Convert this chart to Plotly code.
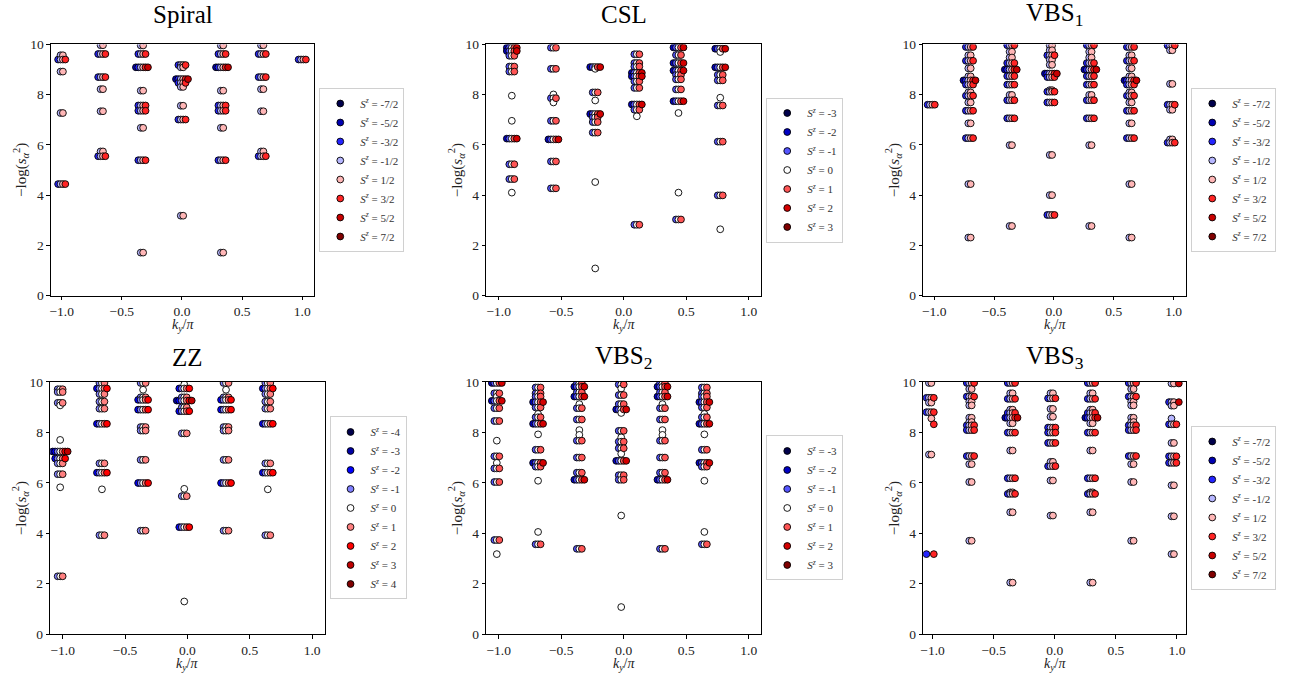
import plotly.graph_objects as go

W, H = 1304, 688
DX = 0.02  # horizontal shift of a point per unit of S^z

# ---------------- data: column momenta, levels (-log s^2) and spins ----------------
# a number in *_SPINS is a full multiplet S (S^z = -S..S); a tuple lists S^z values explicitly

SPIRAL_K = [-1.0, -0.667, -0.333, 0.0, 0.333, 0.667, 1.0]
SPIRAL_LEVELS = [
    [9.57, 9.40, 8.92, 7.27, 4.44],
    [9.97, 9.62, 8.70, 8.22, 7.34, 5.74, 5.55],
    [9.96, 9.62, 9.09, 8.16, 7.57, 7.36, 6.68, 5.39, 1.71],
    [9.18, 9.09, 8.62, 8.47, 8.31, 7.56, 7.01, 3.18],
    [9.96, 9.62, 9.09, 8.16, 7.57, 7.36, 6.68, 5.39, 1.71],
    [9.97, 9.62, 8.70, 8.22, 7.34, 5.74, 5.55],
    [9.40],
]
SPIRAL_SPINS = [
    [0.5, 1.5, 0.5, 0.5, 1.5],
    [0.5, 1.5, 1.5, 0.5, 0.5, 0.5, 1.5],
    [0.5, 1.5, 2.5, 0.5, 1.5, 1.5, 0.5, 1.5, 0.5],
    [1.5, 0.5, 2.5, 1.5, 0.5, 0.5, 1.5, 0.5],
    [0.5, 1.5, 2.5, 0.5, 1.5, 1.5, 0.5, 1.5, 0.5],
    [0.5, 1.5, 1.5, 0.5, 0.5, 0.5, 1.5],
    [1.5],
]
SPIRAL_SZ = [-3.5, -2.5, -1.5, -0.5, 0.5, 1.5, 2.5, 3.5]

CSL_K = [-0.895, -0.562, -0.228, 0.105, 0.438, 0.772]
CSL_LEVELS = [
    [9.87, 9.74, 9.55, 9.12, 8.92, 7.96, 6.96, 6.25, 5.23, 4.64, 4.10],
    [9.87, 9.03, 8.01, 7.86, 7.69, 6.96, 6.22, 5.34, 4.27],
    [9.10, 9.03, 8.09, 7.77, 7.23, 7.10, 6.91, 6.49, 4.52, 1.08],
    [9.61, 9.26, 9.12, 8.87, 8.73, 8.53, 8.27, 7.61, 7.40, 7.14, 2.82],
    [9.88, 9.58, 9.26, 8.96, 8.79, 8.61, 8.21, 7.74, 7.27, 4.10, 3.03],
    [9.83, 9.70, 9.09, 8.79, 8.57, 7.88, 7.57, 6.13, 3.99, 2.64],
]
CSL_SPINS = [
    [2, 2, 1, 1, 1, 0, 0, 2, 1, 1, 0],
    [1, 1, 0, 1, 0, 1, 2, 1, 1],
    [2, 0, 1, 0, 2, 1, 1, 1, 0, 0],
    [1, 1, 1, 2, 2, 1, 1, 2, 1, 0, 1],
    [2, 1, 2, 2, 1, 1, 1, 2, 0, 0, 1],
    [2, 0, 2, 1, 1, 0, 1, 1, 1, 0],
]
CSL_SZ = [-3, -2, -1, 0, 1, 2, 3]

VBS1_K = [-1.025, -0.705, -0.36, -0.025, 0.305, 0.64, 0.98]
VBS1_LEVELS = [
    [7.60],
    [9.90, 9.57, 9.35, 9.05, 8.73, 8.57, 8.40, 8.09, 7.96, 7.69, 7.36, 6.86, 6.27, 4.44, 2.31],
    [9.97, 9.71, 9.48, 9.26, 9.00, 8.74, 8.40, 7.99, 7.78, 7.06, 5.99, 2.77],
    [9.96, 9.77, 9.57, 9.39, 9.19, 8.84, 8.70, 8.18, 8.12, 7.69, 5.60, 4.00, 3.21],
    [9.97, 9.71, 9.48, 9.26, 9.00, 8.74, 8.40, 7.99, 7.78, 7.06, 5.99, 2.77],
    [9.90, 9.57, 9.35, 9.05, 8.73, 8.57, 8.40, 8.09, 7.96, 7.69, 7.36, 6.86, 6.27, 4.44, 2.31],
    [9.96, 9.77, 8.43, 7.60, 7.40, 6.22, 6.09],
]
VBS1_SPINS = [
    [1.5],
    [1.5, 0.5, 1.5, 0.5, 0.5, 2.5, 1.5, 0.5, 1.5, 0.5, 1.5, 0.5, 1.5, 0.5, 0.5],
    [1.5, 0.5, 0.5, 1.5, 2.5, 1.5, 1.5, 0.5, 1.5, 1.5, 0.5, 0.5],
    [0.5, 0.5, 1.5, 0.5, 0.5, 2.5, 1.5, 0.5, 1.5, 1.5, 0.5, 0.5, 1.5],
    [1.5, 0.5, 0.5, 1.5, 2.5, 1.5, 1.5, 0.5, 1.5, 1.5, 0.5, 0.5],
    [1.5, 0.5, 1.5, 0.5, 0.5, 2.5, 1.5, 0.5, 1.5, 0.5, 1.5, 0.5, 1.5, 0.5, 0.5],
    [1.5, 0.5, 0.5, 1.5, 0.5, 0.5, 1.5],
]
VBS1_SZ = [-3.5, -2.5, -1.5, -0.5, 0.5, 1.5, 2.5, 3.5]

ZZ_K = [-1.02, -0.685, -0.355, -0.025, 0.31, 0.645]
ZZ_LEVELS = [
    [9.71, 9.60, 9.17, 9.07, 7.70, 7.24, 6.96, 6.77, 6.34, 5.82, 2.29],
    [9.96, 9.74, 9.52, 9.22, 8.94, 8.34, 6.77, 6.40, 5.74, 3.92],
    [9.96, 9.69, 9.39, 9.29, 8.90, 8.21, 8.07, 6.91, 5.99, 4.10],
    [9.90, 9.74, 9.39, 9.26, 8.99, 8.84, 7.96, 5.76, 5.47, 4.24, 1.29],
    [9.96, 9.69, 9.39, 9.29, 8.90, 8.21, 8.07, 6.91, 5.99, 4.10],
    [9.96, 9.74, 9.52, 9.22, 8.94, 8.34, 6.77, 6.40, 5.74, 3.92],
]
ZZ_SPINS = [
    [1, 1, 1, 0, 0, 3, 2, 1, 1, 0, 1],
    [1, 2, 1, 1, 1, 2, 1, 2, 0, 1],
    [1, 0, 1, 2, 2, 1, 1, 1, 2, 1],
    [0, 2, 1, 3, 1, 2, 1, 0, 1, 2, 0],
    [1, 0, 1, 2, 2, 1, 1, 1, 2, 1],
    [1, 2, 1, 1, 1, 2, 1, 2, 0, 1],
]
ZZ_SZ = [-4, -3, -2, -1, 0, 1, 2, 3, 4]

VBS2_K = [-1.015, -0.685, -0.355, -0.02, 0.31, 0.645]
VBS2_LEVELS = [
    [9.96, 9.55, 9.42, 9.25, 8.96, 8.45, 7.67, 7.05, 6.79, 6.57, 6.03, 3.73, 3.17],
    [9.78, 9.55, 9.42, 9.20, 8.99, 8.73, 8.60, 8.34, 7.92, 7.31, 6.79, 6.64, 6.08, 4.05, 3.56],
    [9.94, 9.81, 9.59, 9.42, 9.12, 8.96, 8.51, 8.09, 7.90, 7.67, 7.00, 6.40, 6.12, 3.38],
    [9.90, 9.74, 9.48, 9.12, 8.91, 8.77, 8.06, 7.80, 7.63, 7.37, 7.15, 6.87, 6.30, 6.12, 4.70, 1.07],
    [9.94, 9.81, 9.59, 9.42, 9.12, 8.96, 8.51, 8.09, 7.90, 7.67, 7.00, 6.40, 6.12, 3.38],
    [9.78, 9.55, 9.42, 9.20, 8.99, 8.73, 8.60, 8.34, 7.92, 7.31, 6.79, 6.64, 6.08, 4.05, 3.56],
]
VBS2_SPINS = [
    [2, 1, 0, 2, 1, 1, 0, 1, 0, 1, 1, 1, 0],
    [1, 1, 1, 2, 1, 0, 1, 2, 0, 1, 2, 1, 0, 0, 1],
    [1, 2, 1, 2, 0, 1, 1, 0, 0, 1, 1, 1, 2, 1],
    [1, 0, 1, 1, 2, 0, 1, 0, 1, 1, 0, 2, 1, 1, 0, 0],
    [1, 2, 1, 2, 0, 1, 1, 0, 0, 1, 1, 1, 2, 1],
    [1, 1, 1, 2, 1, 0, 1, 2, 0, 1, 2, 1, 0, 0, 1],
]
VBS2_SZ = [-3, -2, -1, 0, 1, 2, 3]

VBS3_K = [-1.02, -0.69, -0.355, -0.025, 0.30, 0.635, 0.965]
VBS3_LEVELS = [
    [9.96, 9.37, 9.18, 8.80, 8.55, 8.32, 7.12, 3.17],
    [9.96, 9.72, 9.42, 9.22, 9.07, 8.58, 8.41, 8.28, 8.09, 7.06, 6.74, 6.03, 3.70],
    [9.96, 9.55, 9.33, 8.90, 8.77, 8.58, 8.36, 7.99, 7.28, 6.18, 5.62, 5.56, 4.83, 2.04],
    [9.55, 9.35, 8.93, 8.62, 8.19, 7.99, 7.58, 6.83, 6.66, 6.09, 4.70],
    [9.96, 9.55, 9.33, 8.90, 8.77, 8.58, 8.36, 7.99, 7.28, 6.18, 5.62, 5.56, 4.83, 2.04],
    [9.96, 9.72, 9.42, 9.22, 9.07, 8.58, 8.41, 8.28, 8.09, 7.06, 6.74, 6.03, 3.70],
    [9.94, 9.20, 9.06, 8.55, 8.32, 7.58, 7.05, 6.79, 5.90, 4.67, 3.17],
]
VBS3_SPINS = [
    [0.5, 1.5, 0.5, 1.5, (0.5,), (1.5,), 0.5, (-1.5, 1.5)],
    [1.5, 0.5, 1.5, 0.5, 0.5, 0.5, 0.5, 1.5, 1.5, 1.5, 0.5, 0.5, 0.5],
    [1.5, 0.5, 1.5, 0.5, 1.5, 2.5, 0.5, 1.5, 0.5, 1.5, 0.5, 1.5, 0.5, 0.5],
    [0.5, 1.5, 0.5, 0.5, 1.5, 1.5, 1.5, 0.5, 1.5, 0.5, 0.5],
    [1.5, 0.5, 1.5, 0.5, 1.5, 2.5, 0.5, 1.5, 0.5, 1.5, 0.5, 1.5, 0.5, 0.5],
    [1.5, 0.5, 1.5, 0.5, 0.5, 0.5, 0.5, 1.5, 1.5, 1.5, 0.5, 0.5, 0.5],
    [(-0.5, 0.5, 2.5), (-1.5, -0.5, 0.5, 2.5), 0.5, (-0.5,), 1.5, 0.5, 1.5, 1.5, 0.5, 0.5, 0.5],
]
VBS3_SZ = [-3.5, -2.5, -1.5, -0.5, 0.5, 1.5, 2.5, 3.5]

# ---------------- panel layout (pixel boxes) ----------------
PANELS = [
    dict(title="Spiral", k=SPIRAL_K, lev=SPIRAL_LEVELS, spin=SPIRAL_SPINS, sz=SPIRAL_SZ,
         box=(48, 312, 38.3, 295), xr=(-1.09, 1.10)),
    dict(title="CSL", k=CSL_K, lev=CSL_LEVELS, spin=CSL_SPINS, sz=CSL_SZ,
         box=(484.3, 760, 38.3, 295), xr=(-1.10, 1.10)),
    dict(title="VBS<sub>1</sub>", k=VBS1_K, lev=VBS1_LEVELS, spin=VBS1_SPINS, sz=VBS1_SZ,
         box=(922.3, 1186, 38.3, 295), xr=(-1.092, 1.106)),
    dict(title="ZZ", k=ZZ_K, lev=ZZ_LEVELS, spin=ZZ_SPINS, sz=ZZ_SZ,
         box=(47.3, 322.3, 383.3, 641), xr=(-1.10, 1.10)),
    dict(title="VBS<sub>2</sub>", k=VBS2_K, lev=VBS2_LEVELS, spin=VBS2_SPINS, sz=VBS2_SZ,
         box=(484.3, 760, 383.3, 641), xr=(-1.10, 1.10)),
    dict(title="VBS<sub>3</sub>", k=VBS3_K, lev=VBS3_LEVELS, spin=VBS3_SPINS, sz=VBS3_SZ,
         box=(922.3, 1186, 383.3, 641), xr=(-1.077, 1.076)),
]

# matplotlib "seismic" colormap anchors
SEISMIC = [(0.0, (0.0, 0.0, 0.3)), (0.25, (0.0, 0.0, 1.0)), (0.5, (1.0, 1.0, 1.0)),
           (0.75, (1.0, 0.0, 0.0)), (1.0, (0.5, 0.0, 0.0))]


def seismic(t):
    for (t0, c0), (t1, c1) in zip(SEISMIC[:-1], SEISMIC[1:]):
        if t <= t1 + 1e-12:
            f = (t - t0) / (t1 - t0)
            rgb = [round(255 * (a + (b - a) * f)) for a, b in zip(c0, c1)]
            return "rgb(%d,%d,%d)" % tuple(rgb)
    return "rgb(128,0,0)"


def sz_label(sz):
    if float(sz).is_integer():
        v = "%d" % int(sz)
    else:
        v = "%d/2" % int(round(2 * sz))
    return "<i>S</i><sup><i>z</i></sup> = " + v


def multiplet(s):
    if isinstance(s, tuple):
        return list(s)
    n = int(round(2 * s)) + 1
    return [-s + i for i in range(n)]


SERIF = "Liberation Serif, Times New Roman, serif"

fig = go.Figure()
layout = dict(width=W, height=H, margin=dict(l=0, r=0, t=0, b=0),
              paper_bgcolor="white", plot_bgcolor="white", showlegend=True,
              font=dict(family=SERIF, color="black"))
annotations = []

for i, p in enumerate(PANELS, start=1):
    x0, x1, ytop, ybot = p["box"]
    xa = "x" if i == 1 else "x%d" % i
    ya = "y" if i == 1 else "y%d" % i
    leg = "legend" if i == 1 else "legend%d" % i

    # collect points by S^z
    pts = {sz: ([], []) for sz in p["sz"]}
    for k, levs, spins in zip(p["k"], p["lev"], p["spin"]):
        for y, s in zip(levs, spins):
            for sz in multiplet(s):
                pts[sz][0].append(k + DX * sz)
                pts[sz][1].append(y)

    lo, hi = p["sz"][0], p["sz"][-1]
    for sz in p["sz"]:
        xs, ys = pts[sz]
        if not xs:
            xs, ys = [None], [None]
        t = (sz - lo) / (hi - lo)
        fig.add_trace(go.Scatter(
            x=xs, y=ys, mode="markers", name=sz_label(sz), legend=leg,
            xaxis=xa, yaxis=ya, cliponaxis=True,
            marker=dict(size=6.8, color=seismic(t), line=dict(color="black", width=0.9)),
            hoverinfo="skip"))

    axn = "xaxis" if i == 1 else "xaxis%d" % i
    ayn = "yaxis" if i == 1 else "yaxis%d" % i
    common = dict(showline=True, linecolor="black", linewidth=1, mirror=True,
                  ticks="outside", ticklen=3.5, tickwidth=1, tickcolor="black",
                  showgrid=False, zeroline=False,
                  tickfont=dict(family=SERIF, size=13.5, color="#222"))
    layout[axn] = dict(domain=[x0 / W, x1 / W], range=list(p["xr"]), anchor=ya,
                       tickvals=[-1, -0.5, 0, 0.5, 1], tickformat=".1f", **common)
    layout[ayn] = dict(domain=[1 - ybot / H, 1 - ytop / H], range=[0, 10], anchor=xa,
                       tickvals=[0, 2, 4, 6, 8, 10], tickformat="d", **common)

    cy = (ytop + ybot) / 2
    layout[leg] = dict(x=(x1 + 5) / W, y=1 - cy / H, xanchor="left", yanchor="middle",
                       xref="paper", yref="paper",
                       bgcolor="white", bordercolor="#d0d0d0", borderwidth=1,
                       font=dict(family=SERIF, size=11, color="#333"),
                       tracegroupgap=0, itemwidth=30)

    cx = (x0 + x1) / 2
    # titles sit ~25 px above the frame; the top row gets nudged up a little more
    ty = ytop - 25 if ytop > 100 else ytop - 31
    annotations.append(dict(text=p["title"], x=cx / W, y=1 - ty / H,
                            xref="paper", yref="paper", xanchor="center", yanchor="middle",
                            showarrow=False, font=dict(family=SERIF, size=25, color="black")))
    annotations.append(dict(text="<i>k</i><sub><i>y</i></sub>/<i>π</i>", x=cx / W,
                            y=1 - (ybot + 20) / H, xref="paper", yref="paper",
                            xanchor="center", yanchor="top", showarrow=False,
                            font=dict(family=SERIF, size=14, color="#222")))
    annotations.append(dict(text="−log(<i>s</i><sub><i>α</i></sub><sup>2</sup>)",
                            x=(x0 - 30) / W, y=1 - cy / H, xref="paper", yref="paper",
                            xanchor="center", yanchor="middle", textangle=-90,
                            showarrow=False, font=dict(family=SERIF, size=15, color="#222")))

layout["annotations"] = annotations
fig.update_layout(**layout)
fig.write_html("out.html")
